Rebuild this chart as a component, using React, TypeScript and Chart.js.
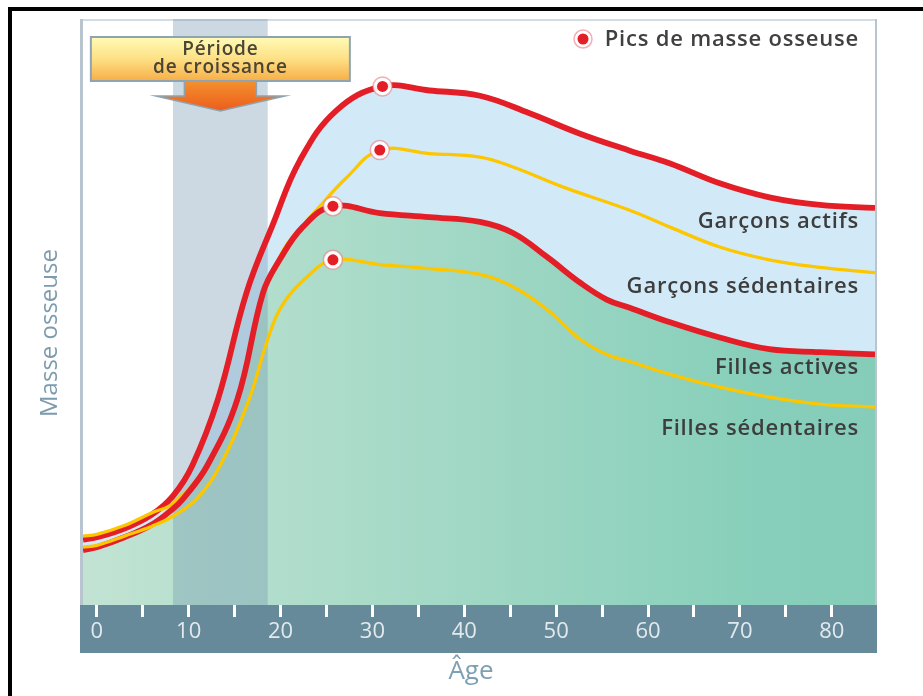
import React, { useEffect, useRef } from 'react';
import { Chart, registerables } from 'chart.js';

Chart.register(...registerables);

// ---- data (age in years, bone mass in relative units 0-100) ----
const gaAges = [-1.5, 0, 3, 6, 8.3, 10.4, 13.2, 16.3, 19.2, 22.1, 26.1, 31.1, 36.2, 41.7, 47.1, 52.6, 58.0, 62.4, 67.8, 73.2, 78.7, 84.7];
const gaValues = [11.2, 11.6, 13.1, 15.5, 18.7, 23.9, 35.3, 53.5, 65.3, 76.1, 84.7, 88.8, 88.1, 87.2, 84.2, 80.7, 77.8, 75.6, 72.2, 69.8, 68.5, 68.0];

const gsAges = [-1.5, 0, 3, 6, 8.3, 12.0, 15.3, 18.1, 19.9, 21.0, 23.9, 27.2, 30.8, 36.2, 41.7, 45.3, 50.7, 58.0, 62.4, 67.8, 73.2, 78.7, 84.7];
const gsValues = [11.8, 12.1, 13.6, 15.8, 17.4, 24.0, 35.4, 53.6, 59.6, 62.4, 67.6, 73.2, 77.9, 77.3, 76.7, 75.0, 71.6, 67.6, 64.7, 61.3, 59.1, 57.8, 56.9];

const faAges = [-1.5, 0, 3, 6, 8.3, 9.4, 12.0, 15.3, 18.1, 19.9, 22.4, 25.7, 30.8, 36.2, 41.7, 45.3, 49.0, 52.6, 55.5, 58.0, 62.4, 67.8, 73.2, 78.7, 84.7];
const faValues = [9.4, 9.9, 11.6, 13.8, 16.5, 18.2, 23.8, 35.2, 53.5, 59.1, 64.7, 68.3, 67.1, 66.4, 65.6, 63.7, 59.6, 55.2, 52.3, 50.9, 48.4, 45.8, 43.8, 43.3, 42.9];

const fsAges = [-1.5, 0, 3, 6, 8.3, 10.9, 13.4, 16.6, 18.5, 20.1, 22.9, 25.7, 30.8, 36.2, 41.7, 45.3, 49.0, 52.6, 55.5, 58.0, 62.4, 67.8, 73.2, 78.7, 84.7];
const fsValues = [9.9, 10.2, 11.8, 13.5, 15.2, 18.2, 23.8, 35.3, 45.0, 51.1, 56.2, 59.1, 58.3, 57.6, 56.6, 54.5, 50.6, 45.5, 42.9, 41.7, 39.5, 37.3, 35.6, 34.4, 33.9];

const seriesLabels = ['Garçons actifs', 'Garçons sédentaires', 'Filles actives', 'Filles sédentaires'];
const xTickValues = [0, 5, 10, 15, 20, 25, 30, 35, 40, 45, 50, 55, 60, 65, 70, 75, 80];
const xTickLabels = ['0', '', '10', '', '20', '', '30', '', '40', '', '50', '', '60', '', '70', '', '80'];
const growthStart = 8.3;
const growthEnd = 18.6;
const growthLabel = ['Période', 'de croissance'];
const legendLabel = 'Pics de masse osseuse';
const yTitle = 'Masse osseuse';
const xTitle = 'Âge';

const RED = '#e31e26';
const YELLOW = '#fcc600';
const BLUE_FILL = '#d2eaf7';
const FONT = '"Open Sans", "DejaVu Sans", sans-serif';

const toXY = (xs: number[], ys: number[]) => xs.map((x, i) => ({ x, y: ys[i] }));
const peakOf = (xs: number[], ys: number[]) => {
  let k = 0;
  ys.forEach((v, i) => { if (v > ys[k]) k = i; });
  return { x: xs[k], y: ys[k] };
};

const decor = {
  id: 'decor',
  beforeDraw(chart: any) {
    const { ctx, chartArea: a } = chart;
    ctx.save();
    ctx.fillStyle = '#ffffff';
    ctx.fillRect(0, 0, chart.width, chart.height);
    // outer black frame (left & top)
    ctx.fillStyle = '#000000';
    ctx.fillRect(8, 7, 4, chart.height - 7);
    ctx.fillRect(8, 7, chart.width - 8, 4);
    // plot frame
    ctx.fillStyle = '#d3dce2';
    ctx.fillRect(a.left - 3, a.top - 2, a.right - a.left + 5, 2);
    ctx.fillStyle = '#b9c5ce';
    ctx.fillRect(a.left - 3, a.top - 2, 3, a.bottom - a.top + 50);
    ctx.fillRect(a.right, a.top - 2, 2, a.bottom - a.top + 2);
    // x axis band
    ctx.fillStyle = '#678a9b';
    ctx.fillRect(a.left - 3, a.bottom, a.right - a.left + 5, 48);
    ctx.restore();
  },
  beforeDatasetsDraw(chart: any) {
    const { ctx, chartArea: a, scales } = chart;
    const x0 = scales.x.getPixelForValue(growthStart);
    const x1 = scales.x.getPixelForValue(growthEnd);
    ctx.save();
    ctx.fillStyle = 'rgba(113,149,174,0.36)';
    ctx.fillRect(x0, a.top - 2, x1 - x0, a.bottom - a.top + 2);
    ctx.restore();
  },
  afterDraw(chart: any) {
    const { ctx, chartArea: a, scales } = chart;
    const x0 = scales.x.getPixelForValue(growthStart);
    const x1 = scales.x.getPixelForValue(growthEnd);
    const cx = (x0 + x1) / 2;
    ctx.save();
    // arrow
    const boxTop = a.top + 16;
    const boxBot = a.top + 60;
    const stemHalf = 36;
    const headHalf = 64.5;
    const headY = boxBot + 15;
    const tipY = boxBot + 30;
    const ag = ctx.createLinearGradient(0, boxBot, 0, tipY);
    ag.addColorStop(0, '#f4902e');
    ag.addColorStop(1, '#ec5d1c');
    ctx.beginPath();
    ctx.moveTo(cx - stemHalf, boxBot);
    ctx.lineTo(cx + stemHalf, boxBot);
    ctx.lineTo(cx + stemHalf, headY);
    ctx.lineTo(cx + headHalf, headY);
    ctx.lineTo(cx, tipY);
    ctx.lineTo(cx - headHalf, headY);
    ctx.lineTo(cx - stemHalf, headY);
    ctx.closePath();
    ctx.fillStyle = ag;
    ctx.fill();
    ctx.strokeStyle = '#8ea3b0';
    ctx.lineWidth = 1.5;
    ctx.stroke();
    // box
    const bw = 259;
    const bg = ctx.createLinearGradient(0, boxTop, 0, boxBot);
    bg.addColorStop(0, '#fffbb8');
    bg.addColorStop(0.5, '#fde084');
    bg.addColorStop(1, '#f7ae48');
    ctx.fillStyle = bg;
    ctx.fillRect(cx - bw / 2, boxTop, bw, boxBot - boxTop);
    ctx.strokeStyle = '#8fa4b1';
    ctx.lineWidth = 2;
    ctx.strokeRect(cx - bw / 2, boxTop, bw, boxBot - boxTop);
    ctx.fillStyle = '#4a4535';
    ctx.font = `600 19px ${FONT}`;
    (ctx as any).letterSpacing = '0.8px';
    ctx.textAlign = 'center';
    ctx.textBaseline = 'middle';
    ctx.fillText(growthLabel[0], cx, boxTop + 13);
    ctx.fillText(growthLabel[1], cx, boxTop + 31);

    // legend
    const lx = 583, ly = 39;
    ctx.beginPath();
    ctx.arc(lx, ly, 9, 0, Math.PI * 2);
    ctx.fillStyle = 'rgba(255,255,255,0.95)';
    ctx.fill();
    ctx.strokeStyle = 'rgba(232,110,120,0.55)';
    ctx.lineWidth = 1.5;
    ctx.stroke();
    ctx.beginPath();
    ctx.arc(lx, ly, 5.5, 0, Math.PI * 2);
    ctx.fillStyle = RED;
    ctx.fill();
    ctx.fillStyle = '#404040';
    ctx.font = `600 22px ${FONT}`;
    (ctx as any).letterSpacing = '0.8px';
    ctx.textAlign = 'right';
    ctx.textBaseline = 'alphabetic';
    ctx.fillText(legendLabel, 859, 46);

    // series labels
    ctx.fillStyle = '#3d3d3d';
    const baselines = [228, 293, 374, 435];
    seriesLabels.forEach((t, i) => ctx.fillText(t, 859, baselines[i]));

    // axis titles
    (ctx as any).letterSpacing = '0px';
    ctx.fillStyle = '#7b9bae';
    ctx.font = `400 24px ${FONT}`;
    ctx.textAlign = 'center';
    ctx.textBaseline = 'middle';
    ctx.save();
    ctx.translate(50, 333);
    ctx.rotate(-Math.PI / 2);
    ctx.fillText(yTitle, 0, 0);
    ctx.restore();
    ctx.fillStyle = '#7fa0b2';
    ctx.font = `400 26px ${FONT}`;
    ctx.fillText(xTitle, 471, 672);
    ctx.restore();
  },
};

export default function App() {
  const ref = useRef<HTMLCanvasElement | null>(null);
  useEffect(() => {
    if (!ref.current) return;
    const greenFill = (c: any) => {
      const { chart } = c;
      const a = chart.chartArea;
      if (!a) return '#a8dac8';
      const g = chart.ctx.createLinearGradient(a.left, 0, a.right, 0);
      g.addColorStop(0, '#c2e3d3');
      g.addColorStop(0.85, '#87cfba');
      g.addColorStop(1, '#85cdb9');
      return g;
    };
    const peaks = [
      peakOf(gaAges, gaValues),
      peakOf(gsAges, gsValues),
      peakOf(faAges, faValues),
      peakOf(fsAges, fsValues),
    ];
    const lineCommon = { pointRadius: 0, tension: 0.4, borderJoinStyle: 'round' as const };
    const chart = new Chart(ref.current, {
      type: 'line',
      data: {
        datasets: [
          { label: seriesLabels[0], data: toXY(gaAges, gaValues), borderColor: RED, borderWidth: 5.8, fill: 2, backgroundColor: BLUE_FILL, order: 4, ...lineCommon },
          { label: seriesLabels[1], data: toXY(gsAges, gsValues), borderColor: YELLOW, borderWidth: 3.3, fill: false, order: 3, ...lineCommon },
          { label: seriesLabels[2], data: toXY(faAges, faValues), borderColor: RED, borderWidth: 5.8, fill: 'origin', backgroundColor: greenFill, order: 2, ...lineCommon },
          { label: seriesLabels[3], data: toXY(fsAges, fsValues), borderColor: YELLOW, borderWidth: 3.3, fill: false, order: 1, ...lineCommon },
          { label: 'halo', data: peaks, showLine: false, pointRadius: 9.5, pointBackgroundColor: 'rgba(255,255,255,0.92)', pointBorderColor: 'rgba(232,110,120,0.55)', pointBorderWidth: 1.5, order: 0 },
          { label: legendLabel, data: peaks, showLine: false, pointRadius: 5.5, pointBackgroundColor: RED, pointBorderWidth: 0, order: -1 },
        ] as any,
      },
      options: {
        responsive: false,
        animation: false,
        events: [],
        layout: { padding: { left: 83, right: 48, top: 21, bottom: 48.6 } },
        plugins: {
          legend: { display: false },
          tooltip: { enabled: false },
          filler: { drawTime: 'beforeDatasetsDraw' },
        } as any,
        scales: {
          x: {
            type: 'linear',
            min: -1.5,
            max: 84.7,
            afterBuildTicks: (s: any) => { s.ticks = xTickValues.map((v) => ({ value: v })); },
            ticks: {
              autoSkip: false,
              maxRotation: 0,
              padding: 2,
              color: '#e3eaee',
              font: { family: FONT, size: 22 },
              callback: (_v: any, i: number) => xTickLabels[i],
            },
            grid: { drawOnChartArea: false, drawTicks: true, tickLength: 12, color: '#ffffff', lineWidth: 3 },
            border: { display: false },
          },
          y: { display: false, min: 0, max: 100 },
        },
      },
      plugins: [decor],
    });
    return () => chart.destroy();
  }, []);
  return (
    <div style={{ position: 'absolute', left: 0, top: 0, width: 923, height: 696 }}>
      <canvas ref={ref} width={923} height={696} style={{ display: 'block' }} />
    </div>
  );
}
